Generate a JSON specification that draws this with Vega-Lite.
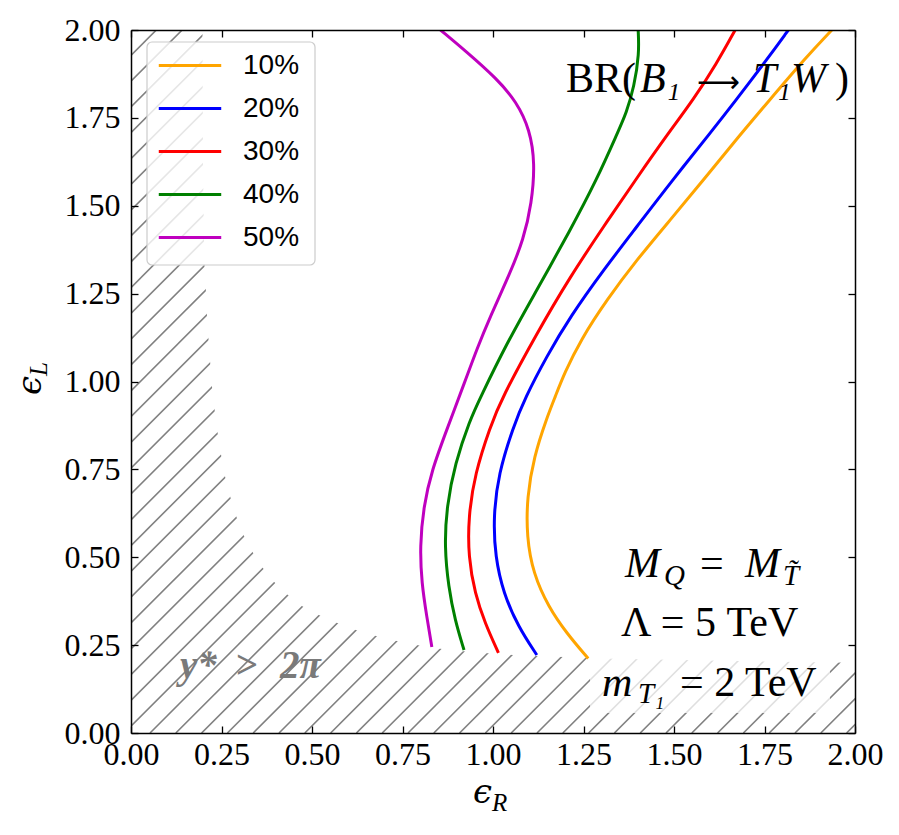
{
  "$schema": "https://vega.github.io/schema/vega-lite/v6.json",
  "width": 724,
  "height": 703,
  "autosize": {"type": "none"},
  "padding": {"left": 131, "top": 30, "right": 44, "bottom": 102},
  "background": "white",
  "config": {"view": {"stroke": null}},
  "encoding": {
    "x": {"field": "x", "type": "quantitative", "scale": {"domain": [0, 2], "nice": false, "zero": false}, "axis": null},
    "y": {"field": "y", "type": "quantitative", "scale": {"domain": [0, 2], "nice": false, "zero": false}, "axis": null}
  },
  "resolve": {"axis": {"x": "independent", "y": "independent"}},
  "layer": [
    {
      "data": {"values": [
        {"x": -1.8718, "x2": 0.1282, "y": 0, "y2": 2.06}, {"x": -1.8005, "x2": 0.1995, "y": 0, "y2": 2.06}, {"x": -1.7293, "x2": 0.2707, "y": 0, "y2": 2.06},
        {"x": -1.6580, "x2": 0.3420, "y": 0, "y2": 2.06}, {"x": -1.5867, "x2": 0.4133, "y": 0, "y2": 2.06}, {"x": -1.5154, "x2": 0.4846, "y": 0, "y2": 2.06},
        {"x": -1.4442, "x2": 0.5558, "y": 0, "y2": 2.06}, {"x": -1.3729, "x2": 0.6271, "y": 0, "y2": 2.06}, {"x": -1.3016, "x2": 0.6984, "y": 0, "y2": 2.06},
        {"x": -1.2304, "x2": 0.7696, "y": 0, "y2": 2.06}, {"x": -1.1591, "x2": 0.8409, "y": 0, "y2": 2.06}, {"x": -1.0878, "x2": 0.9122, "y": 0, "y2": 2.06},
        {"x": -1.0166, "x2": 0.9834, "y": 0, "y2": 2.06}, {"x": -0.9453, "x2": 1.0547, "y": 0, "y2": 2.06}, {"x": -0.8740, "x2": 1.1260, "y": 0, "y2": 2.06},
        {"x": -0.8027, "x2": 1.1973, "y": 0, "y2": 2.06}, {"x": -0.7315, "x2": 1.2685, "y": 0, "y2": 2.06}, {"x": -0.6602, "x2": 1.3398, "y": 0, "y2": 2.06},
        {"x": -0.5889, "x2": 1.4111, "y": 0, "y2": 2.06}, {"x": -0.5177, "x2": 1.4823, "y": 0, "y2": 2.06}, {"x": -0.4464, "x2": 1.5536, "y": 0, "y2": 2.06},
        {"x": -0.3751, "x2": 1.6249, "y": 0, "y2": 2.06}, {"x": -0.3039, "x2": 1.6961, "y": 0, "y2": 2.06}, {"x": -0.2326, "x2": 1.7674, "y": 0, "y2": 2.06},
        {"x": -0.1613, "x2": 1.8387, "y": 0, "y2": 2.06}, {"x": -0.0900, "x2": 1.9100, "y": 0, "y2": 2.06}, {"x": -0.0188, "x2": 1.9812, "y": 0, "y2": 2.06},
        {"x": 0.0525, "x2": 2.0525, "y": 0, "y2": 2.06}, {"x": 0.1238, "x2": 2.1238, "y": 0, "y2": 2.06}, {"x": 0.1950, "x2": 2.1950, "y": 0, "y2": 2.06},
        {"x": 0.2663, "x2": 2.2663, "y": 0, "y2": 2.06}, {"x": 0.3376, "x2": 2.3376, "y": 0, "y2": 2.06}, {"x": 0.4089, "x2": 2.4089, "y": 0, "y2": 2.06},
        {"x": 0.4801, "x2": 2.4801, "y": 0, "y2": 2.06}, {"x": 0.5514, "x2": 2.5514, "y": 0, "y2": 2.06}, {"x": 0.6227, "x2": 2.6227, "y": 0, "y2": 2.06},
        {"x": 0.6939, "x2": 2.6939, "y": 0, "y2": 2.06}, {"x": 0.7652, "x2": 2.7652, "y": 0, "y2": 2.06}, {"x": 0.8365, "x2": 2.8365, "y": 0, "y2": 2.06},
        {"x": 0.9077, "x2": 2.9077, "y": 0, "y2": 2.06}, {"x": 0.9790, "x2": 2.9790, "y": 0, "y2": 2.06}, {"x": 1.0503, "x2": 3.0503, "y": 0, "y2": 2.06},
        {"x": 1.1216, "x2": 3.1216, "y": 0, "y2": 2.06}, {"x": 1.1928, "x2": 3.1928, "y": 0, "y2": 2.06}, {"x": 1.2641, "x2": 3.2641, "y": 0, "y2": 2.06},
        {"x": 1.3354, "x2": 3.3354, "y": 0, "y2": 2.06}, {"x": 1.4066, "x2": 3.4066, "y": 0, "y2": 2.06}, {"x": 1.4779, "x2": 3.4779, "y": 0, "y2": 2.06},
        {"x": 1.5492, "x2": 3.5492, "y": 0, "y2": 2.06}, {"x": 1.6204, "x2": 3.6204, "y": 0, "y2": 2.06}, {"x": 1.6917, "x2": 3.6917, "y": 0, "y2": 2.06},
        {"x": 1.7630, "x2": 3.7630, "y": 0, "y2": 2.06}, {"x": 1.8343, "x2": 3.8343, "y": 0, "y2": 2.06}, {"x": 1.9055, "x2": 3.9055, "y": 0, "y2": 2.06},
        {"x": 1.9768, "x2": 3.9768, "y": 0, "y2": 2.06}
      ]},
      "mark": {"type": "rule", "clip": true, "color": "#808080", "strokeWidth": 1.6},
      "encoding": {
        "x2": {"field": "x2"},
        "y2": {"field": "y2"}
      }
    },
    {
      "data": {"values": [
        {"x": 0.197, "y": 2.1}, {"x": 0.199, "y": 1.6}, {"x": 0.2025, "y": 1.341}, {"x": 0.2064, "y": 1.270},
        {"x": 0.2091, "y": 1.199}, {"x": 0.2135, "y": 1.129}, {"x": 0.2182, "y": 1.061}, {"x": 0.2229, "y": 0.993},
        {"x": 0.2301, "y": 0.927}, {"x": 0.2384, "y": 0.860}, {"x": 0.2478, "y": 0.797}, {"x": 0.2588, "y": 0.734},
        {"x": 0.2735, "y": 0.674}, {"x": 0.2901, "y": 0.618}, {"x": 0.3102, "y": 0.565}, {"x": 0.334, "y": 0.518},
        {"x": 0.362, "y": 0.472}, {"x": 0.395, "y": 0.430}, {"x": 0.431, "y": 0.395}, {"x": 0.472, "y": 0.361},
        {"x": 0.519, "y": 0.336}, {"x": 0.570, "y": 0.313}, {"x": 0.621, "y": 0.293}, {"x": 0.677, "y": 0.276},
        {"x": 0.734, "y": 0.262}, {"x": 0.793, "y": 0.250}, {"x": 0.859, "y": 0.239}, {"x": 0.925, "y": 0.232},
        {"x": 0.986, "y": 0.227}, {"x": 1.055, "y": 0.222}, {"x": 1.3, "y": 0.212}, {"x": 1.6, "y": 0.206},
        {"x": 2.1, "y": 0.198}
      ]},
      "mark": {"type": "area", "clip": true, "color": "white", "opacity": 1},
      "encoding": {"y2": {"datum": 2.1}, "order": {"value": null}}
    },
    {
      "data": {"values": [{"x": 1.268, "x2": 1.931, "y": 0.057, "y2": 0.6}]},
      "mark": {"type": "rect", "color": "white", "opacity": 0.75, "cornerRadius": 4},
      "encoding": {
        "x": {"field": "x", "type": "quantitative", "scale": {"domain": [0, 2], "nice": false, "zero": false},
          "axis": {"orient": "top", "values": [0, 0.25, 0.5, 0.75, 1, 1.25, 1.5, 1.75, 2], "labels": false, "tickSize": -7, "tickColor": "black", "tickWidth": 1.3, "domainColor": "black", "domainWidth": 1.5, "grid": false, "title": null, "zindex": 1}},
        "y": {"field": "y", "type": "quantitative", "scale": {"domain": [0, 2], "nice": false, "zero": false},
          "axis": {"orient": "right", "values": [0, 0.25, 0.5, 0.75, 1, 1.25, 1.5, 1.75, 2], "labels": false, "tickSize": -7, "tickColor": "black", "tickWidth": 1.3, "domainColor": "black", "domainWidth": 1.5, "grid": false, "title": null, "zindex": 1}},
        "x2": {"field": "x2"},
        "y2": {"field": "y2"}
      }
    },
    {
      "data": {"values": [{"x": 0.0442, "x2": 0.5083, "y": 1.3314, "y2": 1.9659}]},
      "mark": {"type": "rect", "fill": "white", "fillOpacity": 0.8, "stroke": "#cccccc", "strokeWidth": 1.2, "cornerRadius": 5},
      "encoding": {"x2": {"field": "x2"}, "y2": {"field": "y2"}}
    },
    {
      "data": {"values": [
        {"s": "50%", "x": 0.855, "y": 2.0}, {"s": "50%", "x": 0.927, "y": 1.938}, {"s": "50%", "x": 1.010, "y": 1.862},
        {"s": "50%", "x": 1.065, "y": 1.796}, {"s": "50%", "x": 1.102, "y": 1.716}, {"s": "50%", "x": 1.116, "y": 1.621},
        {"s": "50%", "x": 1.107, "y": 1.507}, {"s": "50%", "x": 1.084, "y": 1.403}, {"s": "50%", "x": 1.047, "y": 1.308},
        {"s": "50%", "x": 0.992, "y": 1.184}, {"s": "50%", "x": 0.956, "y": 1.094}, {"s": "50%", "x": 0.924, "y": 1.004},
        {"s": "50%", "x": 0.872, "y": 0.862}, {"s": "50%", "x": 0.831, "y": 0.748}, {"s": "50%", "x": 0.808, "y": 0.644},
        {"s": "50%", "x": 0.798, "y": 0.530}, {"s": "50%", "x": 0.803, "y": 0.426}, {"s": "50%", "x": 0.817, "y": 0.331},
        {"s": "50%", "x": 0.831, "y": 0.245},
        {"s": "40%", "x": 1.401, "y": 2.0}, {"s": "40%", "x": 1.404, "y": 1.933}, {"s": "40%", "x": 1.390, "y": 1.839},
        {"s": "40%", "x": 1.368, "y": 1.763}, {"s": "40%", "x": 1.345, "y": 1.710}, {"s": "40%", "x": 1.286, "y": 1.573},
        {"s": "40%", "x": 1.213, "y": 1.430}, {"s": "40%", "x": 1.121, "y": 1.260}, {"s": "40%", "x": 1.038, "y": 1.109},
        {"s": "40%", "x": 0.964, "y": 0.952}, {"s": "40%", "x": 0.936, "y": 0.890}, {"s": "40%", "x": 0.895, "y": 0.767},
        {"s": "40%", "x": 0.872, "y": 0.644}, {"s": "40%", "x": 0.866, "y": 0.530}, {"s": "40%", "x": 0.877, "y": 0.416},
        {"s": "40%", "x": 0.895, "y": 0.321}, {"s": "40%", "x": 0.920, "y": 0.236},
        {"s": "30%", "x": 1.669, "y": 2.0}, {"s": "30%", "x": 1.618, "y": 1.905}, {"s": "30%", "x": 1.553, "y": 1.801},
        {"s": "30%", "x": 1.484, "y": 1.706}, {"s": "30%", "x": 1.400, "y": 1.583}, {"s": "30%", "x": 1.305, "y": 1.440},
        {"s": "30%", "x": 1.213, "y": 1.298}, {"s": "30%", "x": 1.121, "y": 1.137}, {"s": "30%", "x": 1.024, "y": 0.952},
        {"s": "30%", "x": 0.992, "y": 0.871}, {"s": "30%", "x": 0.950, "y": 0.738}, {"s": "30%", "x": 0.932, "y": 0.615},
        {"s": "30%", "x": 0.932, "y": 0.501}, {"s": "30%", "x": 0.950, "y": 0.397}, {"s": "30%", "x": 0.978, "y": 0.312},
        {"s": "30%", "x": 1.015, "y": 0.228},
        {"s": "20%", "x": 1.816, "y": 2.0}, {"s": "20%", "x": 1.756, "y": 1.915}, {"s": "20%", "x": 1.664, "y": 1.791},
        {"s": "20%", "x": 1.607, "y": 1.716}, {"s": "20%", "x": 1.489, "y": 1.564}, {"s": "20%", "x": 1.397, "y": 1.440},
        {"s": "20%", "x": 1.305, "y": 1.317}, {"s": "20%", "x": 1.213, "y": 1.184}, {"s": "20%", "x": 1.148, "y": 1.071},
        {"s": "20%", "x": 1.088, "y": 0.952}, {"s": "20%", "x": 1.056, "y": 0.871}, {"s": "20%", "x": 1.015, "y": 0.738},
        {"s": "20%", "x": 1.001, "y": 0.615}, {"s": "20%", "x": 1.006, "y": 0.501}, {"s": "20%", "x": 1.029, "y": 0.397},
        {"s": "20%", "x": 1.070, "y": 0.302}, {"s": "20%", "x": 1.121, "y": 0.222},
        {"s": "10%", "x": 1.936, "y": 2.0}, {"s": "10%", "x": 1.866, "y": 1.924}, {"s": "10%", "x": 1.756, "y": 1.791},
        {"s": "10%", "x": 1.682, "y": 1.701}, {"s": "10%", "x": 1.581, "y": 1.573}, {"s": "10%", "x": 1.489, "y": 1.459},
        {"s": "10%", "x": 1.397, "y": 1.346}, {"s": "10%", "x": 1.314, "y": 1.232}, {"s": "10%", "x": 1.242, "y": 1.118},
        {"s": "10%", "x": 1.197, "y": 1.023}, {"s": "10%", "x": 1.172, "y": 0.957}, {"s": "10%", "x": 1.148, "y": 0.895},
        {"s": "10%", "x": 1.113, "y": 0.786}, {"s": "10%", "x": 1.094, "y": 0.672}, {"s": "10%", "x": 1.093, "y": 0.558},
        {"s": "10%", "x": 1.111, "y": 0.454}, {"s": "10%", "x": 1.153, "y": 0.359}, {"s": "10%", "x": 1.204, "y": 0.283},
        {"s": "10%", "x": 1.263, "y": 0.212}
      ]},
      "mark": {"type": "line", "strokeWidth": 3, "interpolate": "basis", "clip": true},
      "encoding": {
        "x": {"field": "x", "type": "quantitative", "scale": {"domain": [0, 2], "nice": false, "zero": false},
          "axis": {"orient": "bottom", "values": [0, 0.25, 0.5, 0.75, 1, 1.25, 1.5, 1.75, 2], "format": ".2f", "labelFont": "Liberation Serif", "labelFontSize": 32, "labelColor": "black", "labelPadding": 13, "labelFlush": false, "labelOverlap": false, "tickSize": -7, "tickColor": "black", "tickWidth": 1.3, "domainColor": "black", "domainWidth": 1.5, "grid": false, "title": null, "zindex": 1}},
        "y": {"field": "y", "type": "quantitative", "scale": {"domain": [0, 2], "nice": false, "zero": false},
          "axis": {"orient": "left", "values": [0, 0.25, 0.5, 0.75, 1, 1.25, 1.5, 1.75, 2], "format": ".2f", "labelFont": "Liberation Serif", "labelFontSize": 32, "labelColor": "black", "labelPadding": 18, "labelFlush": false, "labelOverlap": false, "tickSize": -7, "tickColor": "black", "tickWidth": 1.3, "domainColor": "black", "domainWidth": 1.5, "grid": false, "title": null, "zindex": 1}},
        "color": {"field": "s", "type": "nominal",
          "scale": {"domain": ["10%", "20%", "30%", "40%", "50%"], "range": ["#FFA500", "#0000FF", "#FF0000", "#008000", "#BF00BF"]},
          "legend": {"title": null, "orient": "none", "legendX": 26, "legendY": 14, "symbolType": "stroke", "symbolSize": 3900, "symbolStrokeWidth": 3, "labelFont": "Liberation Sans", "labelFontSize": 28, "labelColor": "black", "labelOffset": 20, "rowPadding": 0, "clipHeight": 43, "padding": 0}},
        "order": {"value": null}
      }
    },
    {
      "data": {"values": [
        {"t": "BR(", "x": 1.2017, "y": 1.8245}, {"t": ")", "x": 1.945, "y": 1.8245},
        {"t": "=", "x": 1.5718, "y": 0.4438}, {"t": "Λ = 5 TeV", "x": 1.3536, "y": 0.276}, {"t": "= 2 TeV", "x": 1.5166, "y": 0.105}
      ]},
      "mark": {"type": "text", "font": "Liberation Serif, DejaVu Serif", "fontSize": 42, "align": "left", "baseline": "alphabetic", "color": "black"},
      "encoding": {"text": {"field": "t"}}
    },
    {
      "data": {"values": [{"t": "⟶", "x": 1.563, "y": 1.8245}]},
      "mark": {"type": "text", "font": "DejaVu Sans", "fontSize": 30, "align": "left", "baseline": "alphabetic", "color": "black"},
      "encoding": {"text": {"field": "t"}}
    },
    {
      "data": {"values": [
        {"t": "B₁", "x": 1.406, "y": 1.8245}, {"t": "T₁W", "x": 1.718, "y": 1.8245},
        {"t": "M", "x": 1.3646, "y": 0.4438}, {"t": "M", "x": 1.6961, "y": 0.4438}, {"t": "m", "x": 1.301, "y": 0.105}
      ]},
      "mark": {"type": "text", "font": "Liberation Serif, DejaVu Serif", "fontSize": 42, "fontStyle": "italic", "align": "left", "baseline": "alphabetic", "color": "black"},
      "encoding": {"text": {"field": "t"}}
    },
    {
      "data": {"values": [
        {"t": "Q", "x": 1.4724, "y": 0.421}, {"t": "T̃", "x": 1.8011, "y": 0.421}, {"t": "T₁", "x": 1.4006, "y": 0.085}
      ]},
      "mark": {"type": "text", "font": "Liberation Serif, DejaVu Serif", "fontSize": 29, "fontStyle": "italic", "align": "left", "baseline": "alphabetic", "color": "black"},
      "encoding": {"text": {"field": "t"}}
    },
    {
      "data": {"values": [
        {"t": "y*", "x": 0.1354, "y": 0.1565}, {"t": ">", "x": 0.2873, "y": 0.1565}, {"t": "2π", "x": 0.4116, "y": 0.1565}
      ]},
      "mark": {"type": "text", "font": "Liberation Serif, DejaVu Serif", "fontSize": 39, "fontStyle": "italic", "fontWeight": "bold", "align": "left", "baseline": "alphabetic", "color": "#7a7a7a"},
      "encoding": {"text": {"field": "t"}}
    },
    {
      "data": {"values": [{"t": "ϵ", "x": 0.945, "y": -0.199}]},
      "mark": {"type": "text", "font": "DejaVu Serif", "fontSize": 34, "fontStyle": "italic", "align": "left", "baseline": "alphabetic", "color": "black"},
      "encoding": {"text": {"field": "t"}}
    },
    {
      "data": {"values": [{"t": "R", "x": 0.997, "y": -0.222}]},
      "mark": {"type": "text", "font": "Liberation Serif", "fontSize": 25, "fontStyle": "italic", "align": "left", "baseline": "alphabetic", "color": "black"},
      "encoding": {"text": {"field": "t"}}
    },
    {
      "data": {"values": [{"t": "ϵ", "x": -0.2486, "y": 0.9616}]},
      "mark": {"type": "text", "font": "DejaVu Serif", "fontSize": 34, "fontStyle": "italic", "angle": 270, "align": "left", "baseline": "alphabetic", "color": "black"},
      "encoding": {"text": {"field": "t"}}
    },
    {
      "data": {"values": [{"t": "L", "x": -0.232, "y": 1.016}]},
      "mark": {"type": "text", "font": "Liberation Serif", "fontSize": 25, "fontStyle": "italic", "angle": 270, "align": "left", "baseline": "alphabetic", "color": "black"},
      "encoding": {"text": {"field": "t"}}
    }
  ]
}
